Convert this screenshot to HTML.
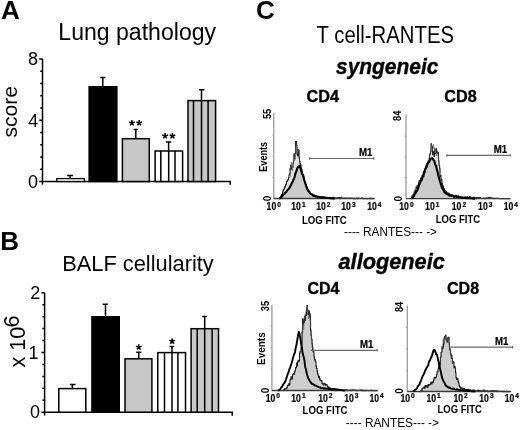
<!DOCTYPE html>
<html><head><meta charset="utf-8">
<style>
html,body{margin:0;padding:0;background:#fff;}
body{width:520px;height:430px;overflow:hidden;}
svg{display:block;will-change:transform;}
text{font-family:"Liberation Sans",sans-serif;fill:#000;}
.b{font-weight:bold;}
.s3{stroke:#000;stroke-width:0.35px;}
.s2{stroke:#000;stroke-width:0.22px;}
</style></head><body>
<svg width="520" height="430" viewBox="0 0 520 430">
<rect width="520" height="430" fill="#fff"/>

<!-- ============ PANEL A ============ -->
<text class="b" x="1" y="19.2" font-size="26">A</text>
<text x="58.3" y="39.9" font-size="23.5" textLength="157.8" lengthAdjust="spacingAndGlyphs">Lung pathology</text>
<text x="0" y="0" font-size="20.8" transform="translate(16.7,137.5) rotate(-90)" textLength="51.6" lengthAdjust="spacingAndGlyphs">score</text>
<g font-size="18" text-anchor="end">
<text x="38" y="65">8</text>
<text x="38.3" y="126.6">4</text>
<text x="38" y="187.7">0</text>
</g>
<g stroke="#000" stroke-width="1.5" fill="none">
<path d="M42.5 58.9V184.6"/>
<path d="M39.2 58.9H42.5M39.2 120.2H42.5M39.2 181.5H230.2V184.8"/>
<path d="M40.2 71.2H42.5M40.2 83.5H42.5M40.2 95.8H42.5M40.2 108H42.5M40.2 132.5H42.5M40.2 144.8H42.5M40.2 157H42.5M40.2 169.3H42.5"/>
</g>
<!-- bars A -->
<g stroke="#000" stroke-width="1.5">
<rect x="56.8" y="178.6" width="27.5" height="2.9" fill="#fff" stroke-width="1.3"/>
<rect x="89.15" y="86.75" width="27.7" height="94.75" fill="#000"/>
<rect x="122.4" y="138.7" width="26.9" height="42.8" fill="#c7c7c7"/>
<rect x="155.1" y="151" width="27.5" height="30.5" fill="#fff"/>
<rect x="188" y="100.6" width="27.6" height="80.9" fill="#c7c7c7"/>
<path d="M160.8 151V181.5M168.7 151V181.5M175 151V181.5" fill="none"/>
<path d="M193.5 100.6V181.5M201.5 100.6V181.5M208.1 100.6V181.5" fill="none"/>
<!-- error bars -->
<path d="M70.2 178.7V175.4M67.2 175.4H73" fill="none"/>
<path d="M102.8 86V77.4M100.3 77.4H105.5" fill="none"/>
<path d="M135.8 138.7V129.5M133.6 129.5H138" fill="none"/>
<path d="M168.6 151V142M166 142H171.2" fill="none"/>
<path d="M201.5 100.6V89.8M199.1 89.8H204.3" fill="none"/>
</g>
<path d="M131.90 123.00L131.90 120.00M131.90 123.00L134.75 122.07M131.90 123.00L133.66 125.43M131.90 123.00L130.14 125.43M131.90 123.00L129.05 122.07M139.20 123.00L139.20 120.00M139.20 123.00L142.05 122.07M139.20 123.00L140.96 125.43M139.20 123.00L137.44 125.43M139.20 123.00L136.35 122.07M165.10 136.00L165.10 133.00M165.10 136.00L167.95 135.07M165.10 136.00L166.86 138.43M165.10 136.00L163.34 138.43M165.10 136.00L162.25 135.07M172.40 136.00L172.40 133.00M172.40 136.00L175.25 135.07M172.40 136.00L174.16 138.43M172.40 136.00L170.64 138.43M172.40 136.00L169.55 135.07M138.80 347.20L138.80 344.20M138.80 347.20L141.65 346.27M138.80 347.20L140.56 349.63M138.80 347.20L137.04 349.63M138.80 347.20L135.95 346.27M172.10 341.30L172.10 338.30M172.10 341.30L174.95 340.37M172.10 341.30L173.86 343.73M172.10 341.30L170.34 343.73M172.10 341.30L169.25 340.37" stroke="#000" stroke-width="1.5" fill="none"/>

<!-- ============ PANEL B ============ -->
<text class="b" x="0.3" y="249.7" font-size="26">B</text>
<text x="62.2" y="271.3" font-size="22.8" textLength="151.6" lengthAdjust="spacingAndGlyphs">BALF cellularity</text>
<text x="0" y="0" font-size="21.7" transform="translate(24.5,367.6) rotate(-90)">x 10</text>
<text x="0" y="0" font-size="21.7" transform="translate(18.8,327.6) rotate(-90)">6</text>
<g font-size="18" text-anchor="end">
<text x="40.3" y="298.6">2</text>
<text x="38.6" y="358.7">1</text>
<text x="40" y="418.2">0</text>
</g>
<g stroke="#000" stroke-width="1.5" fill="none">
<path d="M44.6 292.8V415.6"/>
<path d="M41.4 292.8H44.6M41.4 352.5H44.6M41.4 412.2H232.2V415.7"/>
<path d="M42.4 304.7H44.6M42.4 316.7H44.6M42.4 328.6H44.6M42.4 340.6H44.6M42.4 364.4H44.6M42.4 376.4H44.6M42.4 388.3H44.6M42.4 400.3H44.6"/>
</g>
<g stroke="#000" stroke-width="1.5">
<rect x="58.8" y="388.6" width="27" height="23.6" fill="#fff"/>
<rect x="91.95" y="316.75" width="27.3" height="95.45" fill="#000"/>
<rect x="125" y="358.8" width="26.9" height="53.4" fill="#c7c7c7"/>
<rect x="157.8" y="352.6" width="27.7" height="59.6" fill="#fff"/>
<rect x="191.1" y="328.7" width="27.4" height="83.5" fill="#c7c7c7"/>
<path d="M164.5 352.6V412.2M172 352.6V412.2M177.9 352.6V412.2" fill="none"/>
<path d="M197.2 328.7V412.2M204.7 328.7V412.2M212.1 328.7V412.2" fill="none"/>
<path d="M72.4 388.6V384.6M69.8 384.6H75.5" fill="none"/>
<path d="M105.5 316V304.3M102.7 304.3H107.9" fill="none"/>
<path d="M138.8 358.8V352.3M136.2 352.3H141.4" fill="none"/>
<path d="M172 352.6V346.6M169.4 346.6H174.3" fill="none"/>
<path d="M204.7 328.7V316.6M202.2 316.6H207.2" fill="none"/>
</g>


<!-- ============ PANEL C ============ -->
<text class="b" x="256" y="19.4" font-size="26">C</text>
<text x="316.6" y="43.4" font-size="23.3" textLength="137.4" lengthAdjust="spacingAndGlyphs">T cell-RANTES</text>
<text class="b s3" font-style="italic" x="336" y="73.9" font-size="22" textLength="102.4" lengthAdjust="spacingAndGlyphs">syngeneic</text>
<text class="b s3" x="306.5" y="101.8" font-size="17" textLength="32.6" lengthAdjust="spacingAndGlyphs">CD4</text>
<text class="b s3" x="444.3" y="101.8" font-size="17" textLength="32.5" lengthAdjust="spacingAndGlyphs">CD8</text>
<text class="b s3" font-style="italic" x="338.5" y="269.2" font-size="22" textLength="106.3" lengthAdjust="spacingAndGlyphs">allogeneic</text>
<text class="b s3" x="307.4" y="294.2" font-size="17" textLength="32" lengthAdjust="spacingAndGlyphs">CD4</text>
<text class="b s3" x="447" y="293.8" font-size="17" textLength="32.2" lengthAdjust="spacingAndGlyphs">CD8</text>

<g font-size="13.5">
<text x="344" y="236.2" textLength="93" lengthAdjust="spacingAndGlyphs">---- RANTES--- -&gt;</text>
<text x="345.8" y="426.9" textLength="93.2" lengthAdjust="spacingAndGlyphs">---- RANTES--- -&gt;</text>
</g>
<g class="b" font-size="10" font-weight="bold">
<text x="302" y="223.5" textLength="44.8" lengthAdjust="spacingAndGlyphs">LOG FITC</text>
<text x="435.8" y="222.9" textLength="44.4" lengthAdjust="spacingAndGlyphs">LOG FITC</text>
<text x="302.5" y="413.6" textLength="45" lengthAdjust="spacingAndGlyphs">LOG FITC</text>
<text x="437.5" y="413.3" textLength="44.4" lengthAdjust="spacingAndGlyphs">LOG FITC</text>
</g>

<!--HIST_START-->
<g id="h1">
<path d="M273.8 113.1V198.7" stroke="#9a9a9a" stroke-width="1.3" fill="none"/>
<path d="M272.4 135.0H273.8M272.4 156.2H273.8M272.4 177.3H273.8" stroke="#9a9a9a" stroke-width="1" fill="none"/>
<path d="M279.00 198.70 L279.50 198.70 L279.50 197.80 L280.00 197.80 L280.00 197.26 L280.50 197.26 L280.50 197.45 L281.00 197.45 L281.00 195.35 L281.50 195.35 L281.50 194.63 L282.00 194.63 L282.00 194.44 L282.50 194.44 L282.50 191.95 L283.00 191.95 L283.00 190.62 L283.50 190.62 L283.50 189.63 L284.00 189.63 L284.00 188.88 L284.50 188.88 L284.50 186.82 L285.00 186.82 L285.00 186.88 L285.50 186.88 L285.50 184.73 L286.00 184.73 L286.00 184.21 L286.50 184.21 L286.50 181.58 L287.00 181.58 L287.00 180.89 L287.50 180.89 L287.50 179.90 L288.00 179.90 L288.00 179.51 L288.50 179.51 L288.50 177.46 L289.00 177.46 L289.00 174.93 L289.50 174.93 L289.50 173.45 L290.00 173.45 L290.00 168.41 L290.50 168.41 L290.50 165.26 L291.00 165.26 L291.00 169.24 L291.50 169.24 L291.50 167.01 L292.00 167.01 L292.00 166.98 L292.50 166.98 L292.50 167.25 L293.00 167.25 L293.00 163.04 L293.50 163.04 L293.50 160.66 L294.00 160.66 L294.00 153.93 L294.50 153.93 L294.50 159.08 L295.00 159.08 L295.00 153.57 L295.50 153.57 L295.50 141.43 L296.00 141.43 L296.00 141.40 L296.50 141.40 L296.50 145.19 L297.00 145.19 L297.00 154.32 L297.50 154.32 L297.50 155.64 L298.00 155.64 L298.00 149.86 L298.50 149.86 L298.50 150.21 L299.00 150.21 L299.00 158.08 L299.50 158.08 L299.50 161.62 L300.00 161.62 L300.00 163.73 L300.50 163.73 L300.50 168.26 L301.00 168.26 L301.00 168.21 L301.50 168.21 L301.50 169.81 L302.00 169.81 L302.00 171.85 L302.50 171.85 L302.50 174.67 L303.00 174.67 L303.00 174.41 L303.50 174.41 L303.50 175.94 L304.00 175.94 L304.00 178.92 L304.50 178.92 L304.50 182.53 L305.00 182.53 L305.00 181.90 L305.50 181.90 L305.50 185.12 L306.00 185.12 L306.00 184.60 L306.50 184.60 L306.50 188.48 L307.00 188.48 L307.00 187.27 L307.50 187.27 L307.50 189.41 L308.00 189.41 L308.00 191.57 L308.50 191.57 L308.50 191.33 L309.00 191.33 L309.00 191.75 L309.50 191.75 L309.50 192.11 L310.00 192.11 L310.00 193.84 L310.50 193.84 L310.50 194.47 L311.00 194.47 L311.00 193.92 L311.50 193.92 L311.50 194.80 L312.00 194.80 L312.00 194.55 L312.50 194.55 L312.50 194.46 L313.00 194.46 L313.00 196.46 L313.50 196.46 L313.50 195.43 L314.00 195.43 L314.00 194.98 L314.50 194.98 L314.50 196.15 L315.00 196.15 L315.00 196.63 L315.50 196.63 L315.50 195.88 L316.00 195.88 L316.00 196.36 L316.50 196.36 L316.50 196.09 L317.00 196.09 L317.00 196.86 L317.50 196.86 L317.50 197.55 L318.00 197.55 L318.00 196.91 L318.50 196.91 L318.50 197.16 L319.00 197.16 L319.00 196.64 L319.50 196.64 L319.50 197.02 L320.00 197.02 L320.00 197.96 L320.50 197.96 L320.50 197.80 L321.00 197.80 L321.00 196.90 L321.50 196.90 L321.50 197.05 L322.00 197.05 L322.00 197.68 L322.50 197.68 L322.50 197.45 L323.00 197.45 L323.00 197.31 L323.50 197.31 L323.50 197.36 L324.00 197.36 L324.00 197.25 L324.50 197.25 L324.50 197.55 L325.00 197.55 L325.00 197.74 L325.50 197.74 L325.50 197.81 L326.00 197.81 L326.00 197.33 L326.50 197.33 L326.50 198.58 L327.00 198.58 L327.00 197.80 L327.50 197.80 L327.50 197.75 L328.00 197.75 L328.00 198.30 L328.50 198.30 L328.50 197.67 L329.00 197.67 L329.00 198.04 L329.50 198.04 L329.50 197.51 L330.00 197.51 L330.00 197.88 L330.50 197.88 L330.50 197.61 L331.00 197.61 L331.00 197.44 L331.50 197.44 L331.50 197.74 L332.00 197.74 L332.00 198.19 L332.50 198.19 L332.50 198.41 L333.00 198.41 L333.00 197.32 L333.50 197.32 L333.50 197.96 L334.00 197.96 L334.00 198.17 L334.50 198.17 L334.50 197.91 L335.00 197.91 L335.00 198.03 L335.50 198.03 L335.50 197.71 L336.00 197.71 L336.00 197.98 L336.50 197.98 L336.50 198.00 L337.00 198.00 L337.00 198.24 L337.50 198.24 L337.50 197.89 L338.00 197.89 L338.00 198.36 L338.50 198.36 L338.50 197.86 L339.00 197.86 L339.00 197.61 L339.50 197.61 L339.50 198.54 L340.00 198.54 L340.00 198.70 L340.50 198.70 L340.50 197.93 L341.00 197.93 L341.00 197.38 L341.50 197.38 L341.50 198.41 L342.00 198.41 L342.00 198.49 L342.50 198.49 L342.50 197.98 L343.00 197.98 L343.00 198.39 L343.50 198.39 L343.50 198.30 L344.00 198.30 L344.00 198.27 L344.50 198.27 L344.50 198.03 L345.00 198.03 L345.00 198.30 L345.50 198.30 L345.50 198.12 L346.00 198.12 L346.00 198.25 L346.50 198.25 L346.50 198.44 L347.00 198.44 L347.00 198.31 L347.50 198.31 L347.50 198.48 L348.00 198.48 L348.00 198.24 L348.50 198.24 L348.50 198.54 L349.00 198.54 L349.00 198.53 L349.50 198.53 L349.50 197.90 L350.00 197.90 L350.00 198.29 L350.50 198.29 L350.50 198.30 L351.00 198.30 L351.00 198.17 L351.50 198.17 L351.50 198.40 L352.00 198.40 L352.00 198.36 L352.50 198.36 L352.50 198.22 L353.00 198.22 L353.00 198.26 L353.50 198.26 L353.50 198.60 L354.00 198.60 L354.00 198.16 L354.50 198.16 L354.50 198.49 L355.00 198.49 L355.00 198.60 L355.50 198.60 L355.50 198.57 L356.00 198.57 L356.00 198.46 L356.50 198.46 L356.50 198.04 L357.00 198.04 L357.00 198.64 L357.50 198.64 L357.50 198.37 L358.00 198.37 L358.00 198.70 L358.50 198.70 L358.50 198.42 L359.00 198.42 L359.00 198.26 L359.50 198.26 L359.50 198.49 L360.00 198.49 L360.00 198.57 L360.50 198.57 L360.50 198.42 L361.00 198.42 L361.00 198.34 L361.50 198.34 L361.50 198.36 L362.00 198.36 L362.00 198.14 L362.50 198.14 L362.50 198.46 L363.00 198.46 L363.00 198.60 L363.50 198.60 L363.50 198.53 L364.00 198.53 L364.00 198.53 L364.50 198.53 L364.50 198.51 L365.00 198.51 L365.00 198.54 L365.50 198.54 L365.50 198.52 L366.00 198.52 L366.00 198.70 L366.50 198.70 L366.50 198.45 L367.00 198.45 L367.00 198.65 L367.50 198.65 L367.50 198.70 L368.00 198.70 L368.00 198.51 L368.50 198.51 L368.50 198.44 L369.00 198.44 L369.00 198.55 L369.50 198.55 L369.50 198.60 L370.00 198.60 L370.00 198.70 L370.50 198.70 L370.50 198.35 L371.00 198.35 L371.00 198.56 L371.50 198.56 L371.50 198.70 L372.00 198.70 L372.00 198.70 L372.50 198.70 L372.50 198.66 L373.00 198.66 L373.00 198.70 L373.50 198.70 L373.50 198.68 L374.30 198.68 L374.30 198.70Z" fill="#e2e2e2" stroke="none"/>
<path d="M279.30 198.50 L280.10 198.02 L280.90 197.46 L281.70 197.02 L282.50 195.43 L283.30 194.74 L284.10 194.28 L284.90 193.19 L285.70 192.41 L286.50 191.71 L287.30 190.23 L288.10 189.71 L288.90 188.54 L289.70 187.56 L290.50 185.81 L291.30 184.45 L292.10 182.54 L292.90 181.32 L293.70 178.97 L294.50 177.40 L295.30 174.00 L296.10 171.93 L296.90 169.51 L297.70 167.38 L298.50 167.20 L299.30 165.87 L300.10 165.81 L300.90 170.17 L301.70 172.32 L302.50 174.76 L303.30 176.23 L304.10 179.74 L304.90 182.13 L305.70 184.64 L306.50 187.01 L307.30 188.96 L308.10 190.41 L308.90 191.36 L309.70 192.93 L310.50 193.63 L311.30 194.26 L312.10 194.36 L312.90 195.42 L313.70 195.90 L314.50 196.07 L315.30 196.07 L316.10 196.56 L316.90 196.43 L317.70 197.11 L318.50 196.76 L319.30 196.92 L320.10 197.42 L320.90 197.27 L321.70 197.20 L322.50 197.44 L323.30 197.40 L324.10 197.31 L324.90 197.66 L325.70 197.80 L326.50 197.92 L327.30 197.84 L328.10 198.00 L328.90 198.07 L329.70 198.13 L330.50 198.14 L331.30 198.35 L332.10 198.45 L332.90 198.57 L333.70 198.42 L335.00 198.60 L335.00 198.70 L279.30 198.70Z" fill="#cbcbcb" stroke="none"/>
<path d="M279.00 198.70 L279.50 198.70 L279.50 197.80 L280.00 197.80 L280.00 197.26 L280.50 197.26 L280.50 197.45 L281.00 197.45 L281.00 195.35 L281.50 195.35 L281.50 194.63 L282.00 194.63 L282.00 194.44 L282.50 194.44 L282.50 191.95 L283.00 191.95 L283.00 190.62 L283.50 190.62 L283.50 189.63 L284.00 189.63 L284.00 188.88 L284.50 188.88 L284.50 186.82 L285.00 186.82 L285.00 186.88 L285.50 186.88 L285.50 184.73 L286.00 184.73 L286.00 184.21 L286.50 184.21 L286.50 181.58 L287.00 181.58 L287.00 180.89 L287.50 180.89 L287.50 179.90 L288.00 179.90 L288.00 179.51 L288.50 179.51 L288.50 177.46 L289.00 177.46 L289.00 174.93 L289.50 174.93 L289.50 173.45 L290.00 173.45 L290.00 168.41 L290.50 168.41 L290.50 165.26 L291.00 165.26 L291.00 169.24 L291.50 169.24 L291.50 167.01 L292.00 167.01 L292.00 166.98 L292.50 166.98 L292.50 167.25 L293.00 167.25 L293.00 163.04 L293.50 163.04 L293.50 160.66 L294.00 160.66 L294.00 153.93 L294.50 153.93 L294.50 159.08 L295.00 159.08 L295.00 153.57 L295.50 153.57 L295.50 141.43 L296.00 141.43 L296.00 141.40 L296.50 141.40 L296.50 145.19 L297.00 145.19 L297.00 154.32 L297.50 154.32 L297.50 155.64 L298.00 155.64 L298.00 149.86 L298.50 149.86 L298.50 150.21 L299.00 150.21 L299.00 158.08 L299.50 158.08 L299.50 161.62 L300.00 161.62 L300.00 163.73 L300.50 163.73 L300.50 168.26 L301.00 168.26 L301.00 168.21 L301.50 168.21 L301.50 169.81 L302.00 169.81 L302.00 171.85 L302.50 171.85 L302.50 174.67 L303.00 174.67 L303.00 174.41 L303.50 174.41 L303.50 175.94 L304.00 175.94 L304.00 178.92 L304.50 178.92 L304.50 182.53 L305.00 182.53 L305.00 181.90 L305.50 181.90 L305.50 185.12 L306.00 185.12 L306.00 184.60 L306.50 184.60 L306.50 188.48 L307.00 188.48 L307.00 187.27 L307.50 187.27 L307.50 189.41 L308.00 189.41 L308.00 191.57 L308.50 191.57 L308.50 191.33 L309.00 191.33 L309.00 191.75 L309.50 191.75 L309.50 192.11 L310.00 192.11 L310.00 193.84 L310.50 193.84 L310.50 194.47 L311.00 194.47 L311.00 193.92 L311.50 193.92 L311.50 194.80 L312.00 194.80 L312.00 194.55 L312.50 194.55 L312.50 194.46 L313.00 194.46 L313.00 196.46 L313.50 196.46 L313.50 195.43 L314.00 195.43 L314.00 194.98 L314.50 194.98 L314.50 196.15 L315.00 196.15 L315.00 196.63 L315.50 196.63 L315.50 195.88 L316.00 195.88 L316.00 196.36 L316.50 196.36 L316.50 196.09 L317.00 196.09 L317.00 196.86 L317.50 196.86 L317.50 197.55 L318.00 197.55 L318.00 196.91 L318.50 196.91 L318.50 197.16 L319.00 197.16 L319.00 196.64 L319.50 196.64 L319.50 197.02 L320.00 197.02 L320.00 197.96 L320.50 197.96 L320.50 197.80 L321.00 197.80 L321.00 196.90 L321.50 196.90 L321.50 197.05 L322.00 197.05 L322.00 197.68 L322.50 197.68 L322.50 197.45 L323.00 197.45 L323.00 197.31 L323.50 197.31 L323.50 197.36 L324.00 197.36 L324.00 197.25 L324.50 197.25 L324.50 197.55 L325.00 197.55 L325.00 197.74 L325.50 197.74 L325.50 197.81 L326.00 197.81 L326.00 197.33 L326.50 197.33 L326.50 198.58 L327.00 198.58 L327.00 197.80 L327.50 197.80 L327.50 197.75 L328.00 197.75 L328.00 198.30 L328.50 198.30 L328.50 197.67 L329.00 197.67 L329.00 198.04 L329.50 198.04 L329.50 197.51 L330.00 197.51 L330.00 197.88 L330.50 197.88 L330.50 197.61 L331.00 197.61 L331.00 197.44 L331.50 197.44 L331.50 197.74 L332.00 197.74 L332.00 198.19 L332.50 198.19 L332.50 198.41 L333.00 198.41 L333.00 197.32 L333.50 197.32 L333.50 197.96 L334.00 197.96 L334.00 198.17 L334.50 198.17 L334.50 197.91 L335.00 197.91 L335.00 198.03 L335.50 198.03 L335.50 197.71 L336.00 197.71 L336.00 197.98 L336.50 197.98 L336.50 198.00 L337.00 198.00 L337.00 198.24 L337.50 198.24 L337.50 197.89 L338.00 197.89 L338.00 198.36 L338.50 198.36 L338.50 197.86 L339.00 197.86 L339.00 197.61 L339.50 197.61 L339.50 198.54 L340.00 198.54 L340.00 198.70 L340.50 198.70 L340.50 197.93 L341.00 197.93 L341.00 197.38 L341.50 197.38 L341.50 198.41 L342.00 198.41 L342.00 198.49 L342.50 198.49 L342.50 197.98 L343.00 197.98 L343.00 198.39 L343.50 198.39 L343.50 198.30 L344.00 198.30 L344.00 198.27 L344.50 198.27 L344.50 198.03 L345.00 198.03 L345.00 198.30 L345.50 198.30 L345.50 198.12 L346.00 198.12 L346.00 198.25 L346.50 198.25 L346.50 198.44 L347.00 198.44 L347.00 198.31 L347.50 198.31 L347.50 198.48 L348.00 198.48 L348.00 198.24 L348.50 198.24 L348.50 198.54 L349.00 198.54 L349.00 198.53 L349.50 198.53 L349.50 197.90 L350.00 197.90 L350.00 198.29 L350.50 198.29 L350.50 198.30 L351.00 198.30 L351.00 198.17 L351.50 198.17 L351.50 198.40 L352.00 198.40 L352.00 198.36 L352.50 198.36 L352.50 198.22 L353.00 198.22 L353.00 198.26 L353.50 198.26 L353.50 198.60 L354.00 198.60 L354.00 198.16 L354.50 198.16 L354.50 198.49 L355.00 198.49 L355.00 198.60 L355.50 198.60 L355.50 198.57 L356.00 198.57 L356.00 198.46 L356.50 198.46 L356.50 198.04 L357.00 198.04 L357.00 198.64 L357.50 198.64 L357.50 198.37 L358.00 198.37 L358.00 198.70 L358.50 198.70 L358.50 198.42 L359.00 198.42 L359.00 198.26 L359.50 198.26 L359.50 198.49 L360.00 198.49 L360.00 198.57 L360.50 198.57 L360.50 198.42 L361.00 198.42 L361.00 198.34 L361.50 198.34 L361.50 198.36 L362.00 198.36 L362.00 198.14 L362.50 198.14 L362.50 198.46 L363.00 198.46 L363.00 198.60 L363.50 198.60 L363.50 198.53 L364.00 198.53 L364.00 198.53 L364.50 198.53 L364.50 198.51 L365.00 198.51 L365.00 198.54 L365.50 198.54 L365.50 198.52 L366.00 198.52 L366.00 198.70 L366.50 198.70 L366.50 198.45 L367.00 198.45 L367.00 198.65 L367.50 198.65 L367.50 198.70 L368.00 198.70 L368.00 198.51 L368.50 198.51 L368.50 198.44 L369.00 198.44 L369.00 198.55 L369.50 198.55 L369.50 198.60 L370.00 198.60 L370.00 198.70 L370.50 198.70 L370.50 198.35 L371.00 198.35 L371.00 198.56 L371.50 198.56 L371.50 198.70 L372.00 198.70 L372.00 198.70 L372.50 198.70 L372.50 198.66 L373.00 198.66 L373.00 198.70 L373.50 198.70 L373.50 198.68 L374.30 198.68 L374.30 198.70" fill="none" stroke="#222" stroke-width="1.05"/>
<path d="M289.40 173.30 L289.85 173.30 L289.85 176.23 L290.30 176.23 L290.30 168.04 L290.75 168.04 L290.75 166.39 L291.20 166.39 L291.20 162.33 L291.65 162.33 L291.65 164.79 L292.10 164.79 L292.10 170.89 L292.55 170.89 L292.55 166.51 L293.00 166.51 L293.00 165.32 L293.45 165.32 L293.45 154.28 L293.90 154.28 L293.90 158.94 L294.35 158.94 L294.35 157.93 L294.80 157.93 L294.80 154.86 L295.25 154.86 L295.25 151.96 L295.70 151.96 L295.70 147.08 L296.15 147.08 L296.15 144.92 L296.60 144.92 L296.60 147.00 L297.05 147.00 L297.05 153.40 L297.50 153.40 L297.50 149.03 L297.95 149.03 L297.95 150.87 L298.40 150.87 L298.40 149.54 L298.85 149.54 L298.85 150.02 L299.30 150.02 L299.30 156.78 L299.75 156.78 L299.75 163.04 L300.20 163.04 L300.20 165.23 L300.65 165.23 L300.65 165.68 L301.10 165.68 L301.10 164.67 L301.80 164.67 L301.80 171.20" fill="none" stroke="#555" stroke-width="0.6"/>
<path d="M273.8 198.5H374.3" stroke="#3a3a3a" stroke-width="1.3" fill="none"/>
<path d="M279.30 198.50 L280.10 198.02 L280.90 197.46 L281.70 197.02 L282.50 195.43 L283.30 194.74 L284.10 194.28 L284.90 193.19 L285.70 192.41 L286.50 191.71 L287.30 190.23 L288.10 189.71 L288.90 188.54 L289.70 187.56 L290.50 185.81 L291.30 184.45 L292.10 182.54 L292.90 181.32 L293.70 178.97 L294.50 177.40 L295.30 174.00 L296.10 171.93 L296.90 169.51 L297.70 167.38 L298.50 167.20 L299.30 165.87 L300.10 165.81 L300.90 170.17 L301.70 172.32 L302.50 174.76 L303.30 176.23 L304.10 179.74 L304.90 182.13 L305.70 184.64 L306.50 187.01 L307.30 188.96 L308.10 190.41 L308.90 191.36 L309.70 192.93 L310.50 193.63 L311.30 194.26 L312.10 194.36 L312.90 195.42 L313.70 195.90 L314.50 196.07 L315.30 196.07 L316.10 196.56 L316.90 196.43 L317.70 197.11 L318.50 196.76 L319.30 196.92 L320.10 197.42 L320.90 197.27 L321.70 197.20 L322.50 197.44 L323.30 197.40 L324.10 197.31 L324.90 197.66 L325.70 197.80 L326.50 197.92 L327.30 197.84 L328.10 198.00 L328.90 198.07 L329.70 198.13 L330.50 198.14 L331.30 198.35 L332.10 198.45 L332.90 198.57 L333.70 198.42 L335.00 198.60" fill="none" stroke="#000" stroke-width="2.1" stroke-linejoin="round"/>
<path d="M309.5 158.5H373.9M373.9 157.3V159.7M309.5 157.3V159.7" stroke="#6a6a6a" stroke-width="1.2" fill="none"/>
<text x="359.1" y="155.6" font-size="10" font-weight="bold" class="s2" textLength="13.4" lengthAdjust="spacingAndGlyphs">M1</text>
<text font-size="10" font-weight="bold" transform="translate(270.6,119.1) rotate(-90)" textLength="10.4" lengthAdjust="spacingAndGlyphs">55</text>
<text font-size="10" font-weight="bold" transform="translate(270.9,201.2) rotate(-90)">0</text>
<text font-size="10.5" font-weight="bold" transform="translate(267.4,171.7) rotate(-90)" textLength="29.8" lengthAdjust="spacingAndGlyphs">Events</text>
</g>
<g id="h2">
<path d="M406.0 114.6V198.8" stroke="#9a9a9a" stroke-width="1.3" fill="none"/>
<path d="M404.6 136.1H406.0M404.6 156.8H406.0M404.6 177.5H406.0" stroke="#9a9a9a" stroke-width="1" fill="none"/>
<path d="M411.00 198.80 L411.50 198.80 L411.50 197.08 L412.00 197.08 L412.00 195.76 L412.50 195.76 L412.50 195.66 L413.00 195.66 L413.00 194.62 L413.50 194.62 L413.50 193.93 L414.00 193.93 L414.00 192.01 L414.50 192.01 L414.50 191.70 L415.00 191.70 L415.00 189.96 L415.50 189.96 L415.50 191.98 L416.00 191.98 L416.00 187.14 L416.50 187.14 L416.50 188.01 L417.00 188.01 L417.00 185.88 L417.50 185.88 L417.50 185.85 L418.00 185.85 L418.00 185.07 L418.50 185.07 L418.50 182.66 L419.00 182.66 L419.00 180.90 L419.50 180.90 L419.50 181.32 L420.00 181.32 L420.00 180.42 L420.50 180.42 L420.50 178.18 L421.00 178.18 L421.00 179.80 L421.50 179.80 L421.50 179.83 L422.00 179.83 L422.00 175.28 L422.50 175.28 L422.50 175.92 L423.00 175.92 L423.00 177.02 L423.50 177.02 L423.50 173.60 L424.00 173.60 L424.00 171.94 L424.50 171.94 L424.50 172.43 L425.00 172.43 L425.00 172.10 L425.50 172.10 L425.50 167.96 L426.00 167.96 L426.00 165.16 L426.50 165.16 L426.50 166.59 L427.00 166.59 L427.00 166.68 L427.50 166.68 L427.50 163.14 L428.00 163.14 L428.00 161.11 L428.50 161.11 L428.50 162.13 L429.00 162.13 L429.00 158.71 L429.50 158.71 L429.50 154.31 L430.00 154.31 L430.00 153.93 L430.50 153.93 L430.50 151.38 L431.00 151.38 L431.00 143.73 L431.50 143.73 L431.50 146.09 L432.00 146.09 L432.00 146.70 L432.50 146.70 L432.50 154.56 L433.00 154.56 L433.00 151.32 L433.50 151.32 L433.50 151.43 L434.00 151.43 L434.00 156.42 L434.50 156.42 L434.50 152.07 L435.00 152.07 L435.00 150.02 L435.50 150.02 L435.50 153.40 L436.00 153.40 L436.00 148.65 L436.50 148.65 L436.50 150.87 L437.00 150.87 L437.00 152.11 L437.50 152.11 L437.50 153.34 L438.00 153.34 L438.00 152.54 L438.50 152.54 L438.50 160.90 L439.00 160.90 L439.00 165.58 L439.50 165.58 L439.50 168.72 L440.00 168.72 L440.00 176.41 L440.50 176.41 L440.50 175.20 L441.00 175.20 L441.00 179.09 L441.50 179.09 L441.50 179.83 L442.00 179.83 L442.00 183.88 L442.50 183.88 L442.50 185.22 L443.00 185.22 L443.00 186.47 L443.50 186.47 L443.50 189.56 L444.00 189.56 L444.00 188.73 L444.50 188.73 L444.50 190.48 L445.00 190.48 L445.00 190.79 L445.50 190.79 L445.50 192.40 L446.00 192.40 L446.00 191.41 L446.50 191.41 L446.50 192.47 L447.00 192.47 L447.00 193.75 L447.50 193.75 L447.50 193.33 L448.00 193.33 L448.00 193.10 L448.50 193.10 L448.50 192.97 L449.00 192.97 L449.00 195.88 L449.50 195.88 L449.50 194.27 L450.00 194.27 L450.00 194.86 L450.50 194.86 L450.50 195.40 L451.00 195.40 L451.00 196.16 L451.50 196.16 L451.50 194.73 L452.00 194.73 L452.00 196.56 L452.50 196.56 L452.50 195.48 L453.00 195.48 L453.00 195.15 L453.50 195.15 L453.50 197.11 L454.00 197.11 L454.00 196.42 L454.50 196.42 L454.50 197.15 L455.00 197.15 L455.00 196.36 L455.50 196.36 L455.50 195.69 L456.00 195.69 L456.00 195.46 L456.50 195.46 L456.50 197.64 L457.00 197.64 L457.00 197.02 L457.50 197.02 L457.50 196.37 L458.00 196.37 L458.00 195.95 L458.50 195.95 L458.50 196.63 L459.00 196.63 L459.00 197.29 L459.50 197.29 L459.50 196.80 L460.00 196.80 L460.00 197.01 L460.50 197.01 L460.50 197.15 L461.00 197.15 L461.00 197.46 L461.50 197.46 L461.50 196.96 L462.00 196.96 L462.00 197.05 L462.50 197.05 L462.50 197.29 L463.00 197.29 L463.00 197.40 L463.50 197.40 L463.50 197.94 L464.00 197.94 L464.00 197.62 L464.50 197.62 L464.50 196.92 L465.00 196.92 L465.00 197.58 L465.50 197.58 L465.50 198.13 L466.00 198.13 L466.00 196.96 L466.50 196.96 L466.50 197.32 L467.00 197.32 L467.00 196.66 L467.50 196.66 L467.50 197.55 L468.00 197.55 L468.00 197.78 L468.50 197.78 L468.50 198.20 L469.00 198.20 L469.00 197.07 L469.50 197.07 L469.50 196.57 L470.00 196.57 L470.00 197.98 L470.50 197.98 L470.50 197.92 L471.00 197.92 L471.00 197.43 L471.50 197.43 L471.50 198.02 L472.00 198.02 L472.00 197.81 L472.50 197.81 L472.50 197.85 L473.00 197.85 L473.00 197.65 L473.50 197.65 L473.50 197.32 L474.00 197.32 L474.00 197.75 L474.50 197.75 L474.50 197.42 L475.00 197.42 L475.00 197.95 L475.50 197.95 L475.50 197.68 L476.00 197.68 L476.00 198.62 L476.50 198.62 L476.50 198.37 L477.00 198.37 L477.00 197.55 L477.50 197.55 L477.50 198.08 L478.00 198.08 L478.00 197.66 L478.50 197.66 L478.50 197.69 L479.00 197.69 L479.00 197.43 L479.50 197.43 L479.50 197.63 L480.00 197.63 L480.00 197.57 L480.50 197.57 L480.50 197.99 L481.00 197.99 L481.00 198.20 L481.50 198.20 L481.50 198.23 L482.00 198.23 L482.00 198.16 L482.50 198.16 L482.50 198.39 L483.00 198.39 L483.00 198.20 L483.50 198.20 L483.50 198.06 L484.00 198.06 L484.00 197.96 L484.50 197.96 L484.50 198.17 L485.00 198.17 L485.00 198.70 L485.50 198.70 L485.50 198.11 L486.00 198.11 L486.00 198.03 L486.50 198.03 L486.50 197.78 L487.00 197.78 L487.00 197.95 L487.50 197.95 L487.50 198.34 L488.00 198.34 L488.00 198.38 L488.50 198.38 L488.50 197.57 L489.00 197.57 L489.00 197.97 L489.50 197.97 L489.50 197.67 L490.00 197.67 L490.00 197.60 L490.50 197.60 L490.50 198.47 L491.00 198.47 L491.00 198.14 L491.50 198.14 L491.50 198.13 L492.00 198.13 L492.00 198.12 L492.50 198.12 L492.50 198.14 L493.00 198.14 L493.00 198.25 L493.50 198.25 L493.50 198.27 L494.00 198.27 L494.00 198.72 L494.50 198.72 L494.50 198.39 L495.00 198.39 L495.00 198.55 L495.50 198.55 L495.50 198.35 L496.00 198.35 L496.00 198.51 L496.50 198.51 L496.50 198.26 L497.00 198.26 L497.00 198.23 L497.50 198.23 L497.50 198.36 L498.00 198.36 L498.00 198.38 L498.50 198.38 L498.50 198.44 L499.00 198.44 L499.00 198.57 L499.50 198.57 L499.50 198.53 L500.00 198.53 L500.00 198.61 L500.50 198.61 L500.50 198.44 L501.00 198.44 L501.00 198.53 L501.50 198.53 L501.50 198.44 L502.00 198.44 L502.00 198.80 L502.50 198.80 L502.50 198.42 L503.00 198.42 L503.00 198.72 L503.50 198.72 L503.50 198.73 L504.00 198.73 L504.00 198.65 L504.50 198.65 L504.50 198.72 L505.00 198.72 L505.00 198.61 L505.50 198.61 L505.50 198.75 L506.00 198.75 L506.00 198.80 L506.50 198.80 L506.50 198.80 L507.00 198.80 L507.00 198.56 L507.50 198.56 L507.50 198.72 L508.00 198.72 L508.00 198.80 L508.50 198.80 L508.50 198.75 L509.00 198.75 L509.00 198.80 L509.50 198.80 L509.50 198.68 L510.20 198.68 L510.20 198.80Z" fill="#e2e2e2" stroke="none"/>
<path d="M412.00 198.60 L412.80 197.57 L413.60 196.67 L414.40 195.12 L415.20 193.33 L416.00 192.64 L416.80 191.01 L417.60 189.73 L418.40 187.20 L419.20 184.67 L420.00 183.17 L420.80 180.96 L421.60 180.28 L422.40 177.21 L423.20 175.79 L424.00 172.17 L424.80 170.69 L425.60 168.62 L426.40 167.25 L427.20 164.87 L428.00 163.01 L428.80 162.12 L429.60 160.74 L430.40 159.19 L431.20 158.58 L432.00 158.24 L432.80 158.70 L433.60 160.18 L434.40 160.90 L435.20 164.44 L436.00 165.33 L436.80 169.13 L437.60 172.08 L438.40 175.83 L439.20 178.45 L440.00 181.50 L440.80 183.95 L441.60 186.72 L442.40 188.29 L443.20 189.44 L444.00 191.19 L444.80 192.67 L445.60 192.85 L446.40 193.77 L447.20 194.12 L448.00 194.39 L448.80 194.91 L449.60 195.54 L450.40 195.43 L451.20 195.45 L452.00 195.87 L452.80 195.92 L453.60 196.03 L454.40 196.54 L455.20 196.41 L456.00 196.46 L456.80 196.68 L457.60 196.78 L458.40 196.91 L459.20 196.86 L460.00 197.29 L460.80 197.43 L461.60 197.46 L462.40 197.75 L463.20 197.90 L464.00 197.88 L464.80 197.79 L465.60 197.85 L466.40 198.14 L467.20 198.24 L468.00 198.14 L468.80 198.19 L469.60 198.25 L470.40 198.25 L471.20 198.28 L472.00 198.43 L472.80 198.47 L473.60 198.64 L475.00 198.70 L475.00 198.80 L412.00 198.80Z" fill="#cbcbcb" stroke="none"/>
<path d="M411.00 198.80 L411.50 198.80 L411.50 197.08 L412.00 197.08 L412.00 195.76 L412.50 195.76 L412.50 195.66 L413.00 195.66 L413.00 194.62 L413.50 194.62 L413.50 193.93 L414.00 193.93 L414.00 192.01 L414.50 192.01 L414.50 191.70 L415.00 191.70 L415.00 189.96 L415.50 189.96 L415.50 191.98 L416.00 191.98 L416.00 187.14 L416.50 187.14 L416.50 188.01 L417.00 188.01 L417.00 185.88 L417.50 185.88 L417.50 185.85 L418.00 185.85 L418.00 185.07 L418.50 185.07 L418.50 182.66 L419.00 182.66 L419.00 180.90 L419.50 180.90 L419.50 181.32 L420.00 181.32 L420.00 180.42 L420.50 180.42 L420.50 178.18 L421.00 178.18 L421.00 179.80 L421.50 179.80 L421.50 179.83 L422.00 179.83 L422.00 175.28 L422.50 175.28 L422.50 175.92 L423.00 175.92 L423.00 177.02 L423.50 177.02 L423.50 173.60 L424.00 173.60 L424.00 171.94 L424.50 171.94 L424.50 172.43 L425.00 172.43 L425.00 172.10 L425.50 172.10 L425.50 167.96 L426.00 167.96 L426.00 165.16 L426.50 165.16 L426.50 166.59 L427.00 166.59 L427.00 166.68 L427.50 166.68 L427.50 163.14 L428.00 163.14 L428.00 161.11 L428.50 161.11 L428.50 162.13 L429.00 162.13 L429.00 158.71 L429.50 158.71 L429.50 154.31 L430.00 154.31 L430.00 153.93 L430.50 153.93 L430.50 151.38 L431.00 151.38 L431.00 143.73 L431.50 143.73 L431.50 146.09 L432.00 146.09 L432.00 146.70 L432.50 146.70 L432.50 154.56 L433.00 154.56 L433.00 151.32 L433.50 151.32 L433.50 151.43 L434.00 151.43 L434.00 156.42 L434.50 156.42 L434.50 152.07 L435.00 152.07 L435.00 150.02 L435.50 150.02 L435.50 153.40 L436.00 153.40 L436.00 148.65 L436.50 148.65 L436.50 150.87 L437.00 150.87 L437.00 152.11 L437.50 152.11 L437.50 153.34 L438.00 153.34 L438.00 152.54 L438.50 152.54 L438.50 160.90 L439.00 160.90 L439.00 165.58 L439.50 165.58 L439.50 168.72 L440.00 168.72 L440.00 176.41 L440.50 176.41 L440.50 175.20 L441.00 175.20 L441.00 179.09 L441.50 179.09 L441.50 179.83 L442.00 179.83 L442.00 183.88 L442.50 183.88 L442.50 185.22 L443.00 185.22 L443.00 186.47 L443.50 186.47 L443.50 189.56 L444.00 189.56 L444.00 188.73 L444.50 188.73 L444.50 190.48 L445.00 190.48 L445.00 190.79 L445.50 190.79 L445.50 192.40 L446.00 192.40 L446.00 191.41 L446.50 191.41 L446.50 192.47 L447.00 192.47 L447.00 193.75 L447.50 193.75 L447.50 193.33 L448.00 193.33 L448.00 193.10 L448.50 193.10 L448.50 192.97 L449.00 192.97 L449.00 195.88 L449.50 195.88 L449.50 194.27 L450.00 194.27 L450.00 194.86 L450.50 194.86 L450.50 195.40 L451.00 195.40 L451.00 196.16 L451.50 196.16 L451.50 194.73 L452.00 194.73 L452.00 196.56 L452.50 196.56 L452.50 195.48 L453.00 195.48 L453.00 195.15 L453.50 195.15 L453.50 197.11 L454.00 197.11 L454.00 196.42 L454.50 196.42 L454.50 197.15 L455.00 197.15 L455.00 196.36 L455.50 196.36 L455.50 195.69 L456.00 195.69 L456.00 195.46 L456.50 195.46 L456.50 197.64 L457.00 197.64 L457.00 197.02 L457.50 197.02 L457.50 196.37 L458.00 196.37 L458.00 195.95 L458.50 195.95 L458.50 196.63 L459.00 196.63 L459.00 197.29 L459.50 197.29 L459.50 196.80 L460.00 196.80 L460.00 197.01 L460.50 197.01 L460.50 197.15 L461.00 197.15 L461.00 197.46 L461.50 197.46 L461.50 196.96 L462.00 196.96 L462.00 197.05 L462.50 197.05 L462.50 197.29 L463.00 197.29 L463.00 197.40 L463.50 197.40 L463.50 197.94 L464.00 197.94 L464.00 197.62 L464.50 197.62 L464.50 196.92 L465.00 196.92 L465.00 197.58 L465.50 197.58 L465.50 198.13 L466.00 198.13 L466.00 196.96 L466.50 196.96 L466.50 197.32 L467.00 197.32 L467.00 196.66 L467.50 196.66 L467.50 197.55 L468.00 197.55 L468.00 197.78 L468.50 197.78 L468.50 198.20 L469.00 198.20 L469.00 197.07 L469.50 197.07 L469.50 196.57 L470.00 196.57 L470.00 197.98 L470.50 197.98 L470.50 197.92 L471.00 197.92 L471.00 197.43 L471.50 197.43 L471.50 198.02 L472.00 198.02 L472.00 197.81 L472.50 197.81 L472.50 197.85 L473.00 197.85 L473.00 197.65 L473.50 197.65 L473.50 197.32 L474.00 197.32 L474.00 197.75 L474.50 197.75 L474.50 197.42 L475.00 197.42 L475.00 197.95 L475.50 197.95 L475.50 197.68 L476.00 197.68 L476.00 198.62 L476.50 198.62 L476.50 198.37 L477.00 198.37 L477.00 197.55 L477.50 197.55 L477.50 198.08 L478.00 198.08 L478.00 197.66 L478.50 197.66 L478.50 197.69 L479.00 197.69 L479.00 197.43 L479.50 197.43 L479.50 197.63 L480.00 197.63 L480.00 197.57 L480.50 197.57 L480.50 197.99 L481.00 197.99 L481.00 198.20 L481.50 198.20 L481.50 198.23 L482.00 198.23 L482.00 198.16 L482.50 198.16 L482.50 198.39 L483.00 198.39 L483.00 198.20 L483.50 198.20 L483.50 198.06 L484.00 198.06 L484.00 197.96 L484.50 197.96 L484.50 198.17 L485.00 198.17 L485.00 198.70 L485.50 198.70 L485.50 198.11 L486.00 198.11 L486.00 198.03 L486.50 198.03 L486.50 197.78 L487.00 197.78 L487.00 197.95 L487.50 197.95 L487.50 198.34 L488.00 198.34 L488.00 198.38 L488.50 198.38 L488.50 197.57 L489.00 197.57 L489.00 197.97 L489.50 197.97 L489.50 197.67 L490.00 197.67 L490.00 197.60 L490.50 197.60 L490.50 198.47 L491.00 198.47 L491.00 198.14 L491.50 198.14 L491.50 198.13 L492.00 198.13 L492.00 198.12 L492.50 198.12 L492.50 198.14 L493.00 198.14 L493.00 198.25 L493.50 198.25 L493.50 198.27 L494.00 198.27 L494.00 198.72 L494.50 198.72 L494.50 198.39 L495.00 198.39 L495.00 198.55 L495.50 198.55 L495.50 198.35 L496.00 198.35 L496.00 198.51 L496.50 198.51 L496.50 198.26 L497.00 198.26 L497.00 198.23 L497.50 198.23 L497.50 198.36 L498.00 198.36 L498.00 198.38 L498.50 198.38 L498.50 198.44 L499.00 198.44 L499.00 198.57 L499.50 198.57 L499.50 198.53 L500.00 198.53 L500.00 198.61 L500.50 198.61 L500.50 198.44 L501.00 198.44 L501.00 198.53 L501.50 198.53 L501.50 198.44 L502.00 198.44 L502.00 198.80 L502.50 198.80 L502.50 198.42 L503.00 198.42 L503.00 198.72 L503.50 198.72 L503.50 198.73 L504.00 198.73 L504.00 198.65 L504.50 198.65 L504.50 198.72 L505.00 198.72 L505.00 198.61 L505.50 198.61 L505.50 198.75 L506.00 198.75 L506.00 198.80 L506.50 198.80 L506.50 198.80 L507.00 198.80 L507.00 198.56 L507.50 198.56 L507.50 198.72 L508.00 198.72 L508.00 198.80 L508.50 198.80 L508.50 198.75 L509.00 198.75 L509.00 198.80 L509.50 198.80 L509.50 198.68 L510.20 198.68 L510.20 198.80" fill="none" stroke="#222" stroke-width="1.05"/>
<path d="M423.50 172.00 L423.95 172.00 L423.95 176.77 L424.40 176.77 L424.40 168.41 L424.85 168.41 L424.85 169.17 L425.30 169.17 L425.30 165.88 L425.75 165.88 L425.75 166.80 L426.20 166.80 L426.20 163.07 L426.65 163.07 L426.65 165.71 L427.10 165.71 L427.10 165.89 L427.55 165.89 L427.55 162.67 L428.00 162.67 L428.00 161.84 L428.45 161.84 L428.45 162.33 L428.90 162.33 L428.90 160.82 L429.35 160.82 L429.35 156.20 L429.80 156.20 L429.80 153.37 L430.25 153.37 L430.25 152.59 L430.70 152.59 L430.70 148.32 L431.15 148.32 L431.15 148.85 L431.60 148.85 L431.60 144.60 L432.05 144.60 L432.05 150.33 L432.50 150.33 L432.50 147.96 L432.95 147.96 L432.95 148.78 L433.40 148.78 L433.40 144.60 L433.85 144.60 L433.85 147.38 L434.30 147.38 L434.30 152.04 L434.75 152.04 L434.75 148.35 L435.20 148.35 L435.20 153.30 L435.65 153.30 L435.65 148.68 L436.10 148.68 L436.10 155.93 L436.55 155.93 L436.55 152.24 L437.00 152.24 L437.00 151.21 L437.45 151.21 L437.45 153.77 L437.90 153.77 L437.90 155.68 L438.35 155.68 L438.35 157.73 L438.80 157.73 L438.80 163.02 L439.25 163.02 L439.25 166.40 L440.00 166.40 L440.00 173.00" fill="none" stroke="#555" stroke-width="0.6"/>
<path d="M406.0 198.6H510.2" stroke="#3a3a3a" stroke-width="1.3" fill="none"/>
<path d="M412.00 198.60 L412.80 197.57 L413.60 196.67 L414.40 195.12 L415.20 193.33 L416.00 192.64 L416.80 191.01 L417.60 189.73 L418.40 187.20 L419.20 184.67 L420.00 183.17 L420.80 180.96 L421.60 180.28 L422.40 177.21 L423.20 175.79 L424.00 172.17 L424.80 170.69 L425.60 168.62 L426.40 167.25 L427.20 164.87 L428.00 163.01 L428.80 162.12 L429.60 160.74 L430.40 159.19 L431.20 158.58 L432.00 158.24 L432.80 158.70 L433.60 160.18 L434.40 160.90 L435.20 164.44 L436.00 165.33 L436.80 169.13 L437.60 172.08 L438.40 175.83 L439.20 178.45 L440.00 181.50 L440.80 183.95 L441.60 186.72 L442.40 188.29 L443.20 189.44 L444.00 191.19 L444.80 192.67 L445.60 192.85 L446.40 193.77 L447.20 194.12 L448.00 194.39 L448.80 194.91 L449.60 195.54 L450.40 195.43 L451.20 195.45 L452.00 195.87 L452.80 195.92 L453.60 196.03 L454.40 196.54 L455.20 196.41 L456.00 196.46 L456.80 196.68 L457.60 196.78 L458.40 196.91 L459.20 196.86 L460.00 197.29 L460.80 197.43 L461.60 197.46 L462.40 197.75 L463.20 197.90 L464.00 197.88 L464.80 197.79 L465.60 197.85 L466.40 198.14 L467.20 198.24 L468.00 198.14 L468.80 198.19 L469.60 198.25 L470.40 198.25 L471.20 198.28 L472.00 198.43 L472.80 198.47 L473.60 198.64 L475.00 198.70" fill="none" stroke="#000" stroke-width="2.1" stroke-linejoin="round"/>
<path d="M446.8 155.4H510.3M510.3 154.2V156.6M446.8 154.2V156.6" stroke="#6a6a6a" stroke-width="1.2" fill="none"/>
<text x="493.8" y="153.2" font-size="10" font-weight="bold" class="s2" textLength="13.4" lengthAdjust="spacingAndGlyphs">M1</text>
<text font-size="10" font-weight="bold" transform="translate(401.3,121.0) rotate(-90)" textLength="10.4" lengthAdjust="spacingAndGlyphs">84</text>
<text font-size="10" font-weight="bold" transform="translate(401.8,201.4) rotate(-90)">0</text>
</g>
<g id="h3">
<path d="M271.9 304.8V390.7" stroke="#9a9a9a" stroke-width="1.3" fill="none"/>
<path d="M270.5 326.2H271.9M270.5 347.6H271.9M270.5 369.0H271.9" stroke="#9a9a9a" stroke-width="1" fill="none"/>
<path d="M283.00 390.70 L283.50 390.70 L283.50 389.90 L284.00 389.90 L284.00 390.48 L284.50 390.48 L284.50 388.70 L285.00 388.70 L285.00 389.02 L285.50 389.02 L285.50 388.92 L286.00 388.92 L286.00 388.44 L286.50 388.44 L286.50 388.14 L287.00 388.14 L287.00 387.02 L287.50 387.02 L287.50 385.66 L288.00 385.66 L288.00 385.08 L288.50 385.08 L288.50 383.92 L289.00 383.92 L289.00 385.20 L289.50 385.20 L289.50 384.14 L290.00 384.14 L290.00 379.63 L290.50 379.63 L290.50 379.31 L291.00 379.31 L291.00 376.76 L291.50 376.76 L291.50 376.99 L292.00 376.99 L292.00 378.89 L292.50 378.89 L292.50 374.46 L293.00 374.46 L293.00 374.22 L293.50 374.22 L293.50 373.67 L294.00 373.67 L294.00 374.17 L294.50 374.17 L294.50 371.70 L295.00 371.70 L295.00 370.80 L295.50 370.80 L295.50 367.83 L296.00 367.83 L296.00 367.54 L296.50 367.54 L296.50 363.15 L297.00 363.15 L297.00 366.01 L297.50 366.01 L297.50 362.00 L298.00 362.00 L298.00 360.36 L298.50 360.36 L298.50 361.65 L299.00 361.65 L299.00 360.35 L299.50 360.35 L299.50 353.10 L300.00 353.10 L300.00 351.79 L300.50 351.79 L300.50 351.18 L301.00 351.18 L301.00 347.61 L301.50 347.61 L301.50 345.61 L302.00 345.61 L302.00 332.65 L302.50 332.65 L302.50 318.81 L303.00 318.81 L303.00 324.42 L303.50 324.42 L303.50 320.04 L304.00 320.04 L304.00 322.28 L304.50 322.28 L304.50 316.47 L305.00 316.47 L305.00 320.18 L305.50 320.18 L305.50 314.76 L306.00 314.76 L306.00 315.39 L306.50 315.39 L306.50 307.97 L307.00 307.97 L307.00 305.60 L307.50 305.60 L307.50 309.93 L308.00 309.93 L308.00 314.39 L308.50 314.39 L308.50 312.89 L309.00 312.89 L309.00 311.16 L309.50 311.16 L309.50 317.21 L310.00 317.21 L310.00 314.17 L310.50 314.17 L310.50 330.44 L311.00 330.44 L311.00 335.12 L311.50 335.12 L311.50 339.31 L312.00 339.31 L312.00 343.79 L312.50 343.79 L312.50 349.70 L313.00 349.70 L313.00 351.29 L313.50 351.29 L313.50 352.08 L314.00 352.08 L314.00 356.98 L314.50 356.98 L314.50 359.95 L315.00 359.95 L315.00 359.77 L315.50 359.77 L315.50 361.73 L316.00 361.73 L316.00 366.11 L316.50 366.11 L316.50 368.47 L317.00 368.47 L317.00 371.03 L317.50 371.03 L317.50 373.65 L318.00 373.65 L318.00 375.24 L318.50 375.24 L318.50 377.51 L319.00 377.51 L319.00 376.49 L319.50 376.49 L319.50 378.88 L320.00 378.88 L320.00 380.09 L320.50 380.09 L320.50 380.47 L321.00 380.47 L321.00 380.89 L321.50 380.89 L321.50 380.70 L322.00 380.70 L322.00 383.33 L322.50 383.33 L322.50 384.02 L323.00 384.02 L323.00 383.71 L323.50 383.71 L323.50 385.02 L324.00 385.02 L324.00 383.30 L324.50 383.30 L324.50 383.84 L325.00 383.84 L325.00 384.27 L325.50 384.27 L325.50 385.22 L326.00 385.22 L326.00 384.67 L326.50 384.67 L326.50 384.77 L327.00 384.77 L327.00 385.70 L327.50 385.70 L327.50 386.77 L328.00 386.77 L328.00 388.23 L328.50 388.23 L328.50 386.75 L329.00 386.75 L329.00 388.03 L329.50 388.03 L329.50 388.71 L330.00 388.71 L330.00 388.11 L330.50 388.11 L330.50 388.52 L331.00 388.52 L331.00 389.54 L331.50 389.54 L331.50 388.95 L332.00 388.95 L332.00 389.13 L332.50 389.13 L332.50 388.62 L333.00 388.62 L333.00 390.08 L333.50 390.08 L333.50 389.47 L334.00 389.47 L334.00 389.46 L334.50 389.46 L334.50 388.91 L335.00 388.91 L335.00 390.03 L335.50 390.03 L335.50 390.70 L336.00 390.70 L336.00 390.19 L336.50 390.19 L336.50 389.57 L337.00 389.57 L337.00 389.39 L337.50 389.39 L337.50 389.07 L338.00 389.07 L338.00 389.60 L338.50 389.60 L338.50 390.07 L339.00 390.07 L339.00 389.48 L339.50 389.48 L339.50 389.83 L340.00 389.83 L340.00 389.92 L340.50 389.92 L340.50 389.87 L341.00 389.87 L341.00 389.47 L341.50 389.47 L341.50 390.23 L342.00 390.23 L342.00 390.29 L342.50 390.29 L342.50 390.00 L343.00 390.00 L343.00 390.02 L343.50 390.02 L343.50 390.28 L344.00 390.28 L344.00 390.32 L344.50 390.32 L344.50 389.96 L345.00 389.96 L345.00 389.71 L345.50 389.71 L345.50 389.90 L346.00 389.90 L346.00 389.92 L346.50 389.92 L346.50 389.77 L347.00 389.77 L347.00 390.70 L347.50 390.70 L347.50 390.57 L348.00 390.57 L348.00 390.35 L348.50 390.35 L348.50 390.50 L349.00 390.50 L349.00 390.45 L349.50 390.45 L349.50 390.16 L350.00 390.16 L350.00 390.54 L350.50 390.54 L350.50 390.32 L351.00 390.32 L351.00 390.70 L351.50 390.70 L351.50 390.48 L352.00 390.48 L352.00 389.88 L352.50 389.88 L352.50 390.38 L353.00 390.38 L353.00 390.16 L353.50 390.16 L353.50 390.08 L354.00 390.08 L354.00 390.39 L354.50 390.39 L354.50 390.13 L355.00 390.13 L355.00 390.23 L355.50 390.23 L355.50 390.12 L356.00 390.12 L356.00 390.45 L356.50 390.45 L356.50 390.65 L357.00 390.65 L357.00 390.56 L357.50 390.56 L357.50 390.46 L358.00 390.46 L358.00 390.22 L358.50 390.22 L358.50 390.39 L359.00 390.39 L359.00 390.45 L359.50 390.45 L359.50 390.41 L360.00 390.41 L360.00 390.14 L360.50 390.14 L360.50 390.51 L361.00 390.51 L361.00 390.08 L361.50 390.08 L361.50 390.66 L362.00 390.66 L362.00 390.53 L362.50 390.53 L362.50 390.25 L363.00 390.25 L363.00 390.33 L363.50 390.33 L363.50 390.61 L364.00 390.61 L364.00 390.47 L364.50 390.47 L364.50 390.59 L365.00 390.59 L365.00 390.31 L365.50 390.31 L365.50 390.38 L366.00 390.38 L366.00 390.61 L366.50 390.61 L366.50 390.43 L367.00 390.43 L367.00 390.57 L367.50 390.57 L367.50 390.53 L368.00 390.53 L368.00 390.51 L368.50 390.51 L368.50 390.62 L369.00 390.62 L369.00 390.48 L369.50 390.48 L369.50 390.48 L370.00 390.48 L370.00 390.50 L370.50 390.50 L370.50 390.42 L371.00 390.42 L371.00 390.61 L371.50 390.61 L371.50 390.70 L372.00 390.70 L372.00 390.66 L372.50 390.66 L372.50 390.58 L373.00 390.58 L373.00 390.61 L373.50 390.61 L373.50 390.56 L374.00 390.56 L374.00 390.55 L374.50 390.55 L374.50 390.65 L375.00 390.65 L375.00 390.66 L375.50 390.66 L375.50 390.70 L376.00 390.70 L376.00 390.60 L376.50 390.60 L376.50 390.69 L377.00 390.69 L377.00 390.70 L377.60 390.70 L377.60 390.70Z" fill="#cdcdcd" stroke="none"/>
<path d="M283.00 390.70 L283.50 390.70 L283.50 389.90 L284.00 389.90 L284.00 390.48 L284.50 390.48 L284.50 388.70 L285.00 388.70 L285.00 389.02 L285.50 389.02 L285.50 388.92 L286.00 388.92 L286.00 388.44 L286.50 388.44 L286.50 388.14 L287.00 388.14 L287.00 387.02 L287.50 387.02 L287.50 385.66 L288.00 385.66 L288.00 385.08 L288.50 385.08 L288.50 383.92 L289.00 383.92 L289.00 385.20 L289.50 385.20 L289.50 384.14 L290.00 384.14 L290.00 379.63 L290.50 379.63 L290.50 379.31 L291.00 379.31 L291.00 376.76 L291.50 376.76 L291.50 376.99 L292.00 376.99 L292.00 378.89 L292.50 378.89 L292.50 374.46 L293.00 374.46 L293.00 374.22 L293.50 374.22 L293.50 373.67 L294.00 373.67 L294.00 374.17 L294.50 374.17 L294.50 371.70 L295.00 371.70 L295.00 370.80 L295.50 370.80 L295.50 367.83 L296.00 367.83 L296.00 367.54 L296.50 367.54 L296.50 363.15 L297.00 363.15 L297.00 366.01 L297.50 366.01 L297.50 362.00 L298.00 362.00 L298.00 360.36 L298.50 360.36 L298.50 361.65 L299.00 361.65 L299.00 360.35 L299.50 360.35 L299.50 353.10 L300.00 353.10 L300.00 351.79 L300.50 351.79 L300.50 351.18 L301.00 351.18 L301.00 347.61 L301.50 347.61 L301.50 345.61 L302.00 345.61 L302.00 332.65 L302.50 332.65 L302.50 318.81 L303.00 318.81 L303.00 324.42 L303.50 324.42 L303.50 320.04 L304.00 320.04 L304.00 322.28 L304.50 322.28 L304.50 316.47 L305.00 316.47 L305.00 320.18 L305.50 320.18 L305.50 314.76 L306.00 314.76 L306.00 315.39 L306.50 315.39 L306.50 307.97 L307.00 307.97 L307.00 305.60 L307.50 305.60 L307.50 309.93 L308.00 309.93 L308.00 314.39 L308.50 314.39 L308.50 312.89 L309.00 312.89 L309.00 311.16 L309.50 311.16 L309.50 317.21 L310.00 317.21 L310.00 314.17 L310.50 314.17 L310.50 330.44 L311.00 330.44 L311.00 335.12 L311.50 335.12 L311.50 339.31 L312.00 339.31 L312.00 343.79 L312.50 343.79 L312.50 349.70 L313.00 349.70 L313.00 351.29 L313.50 351.29 L313.50 352.08 L314.00 352.08 L314.00 356.98 L314.50 356.98 L314.50 359.95 L315.00 359.95 L315.00 359.77 L315.50 359.77 L315.50 361.73 L316.00 361.73 L316.00 366.11 L316.50 366.11 L316.50 368.47 L317.00 368.47 L317.00 371.03 L317.50 371.03 L317.50 373.65 L318.00 373.65 L318.00 375.24 L318.50 375.24 L318.50 377.51 L319.00 377.51 L319.00 376.49 L319.50 376.49 L319.50 378.88 L320.00 378.88 L320.00 380.09 L320.50 380.09 L320.50 380.47 L321.00 380.47 L321.00 380.89 L321.50 380.89 L321.50 380.70 L322.00 380.70 L322.00 383.33 L322.50 383.33 L322.50 384.02 L323.00 384.02 L323.00 383.71 L323.50 383.71 L323.50 385.02 L324.00 385.02 L324.00 383.30 L324.50 383.30 L324.50 383.84 L325.00 383.84 L325.00 384.27 L325.50 384.27 L325.50 385.22 L326.00 385.22 L326.00 384.67 L326.50 384.67 L326.50 384.77 L327.00 384.77 L327.00 385.70 L327.50 385.70 L327.50 386.77 L328.00 386.77 L328.00 388.23 L328.50 388.23 L328.50 386.75 L329.00 386.75 L329.00 388.03 L329.50 388.03 L329.50 388.71 L330.00 388.71 L330.00 388.11 L330.50 388.11 L330.50 388.52 L331.00 388.52 L331.00 389.54 L331.50 389.54 L331.50 388.95 L332.00 388.95 L332.00 389.13 L332.50 389.13 L332.50 388.62 L333.00 388.62 L333.00 390.08 L333.50 390.08 L333.50 389.47 L334.00 389.47 L334.00 389.46 L334.50 389.46 L334.50 388.91 L335.00 388.91 L335.00 390.03 L335.50 390.03 L335.50 390.70 L336.00 390.70 L336.00 390.19 L336.50 390.19 L336.50 389.57 L337.00 389.57 L337.00 389.39 L337.50 389.39 L337.50 389.07 L338.00 389.07 L338.00 389.60 L338.50 389.60 L338.50 390.07 L339.00 390.07 L339.00 389.48 L339.50 389.48 L339.50 389.83 L340.00 389.83 L340.00 389.92 L340.50 389.92 L340.50 389.87 L341.00 389.87 L341.00 389.47 L341.50 389.47 L341.50 390.23 L342.00 390.23 L342.00 390.29 L342.50 390.29 L342.50 390.00 L343.00 390.00 L343.00 390.02 L343.50 390.02 L343.50 390.28 L344.00 390.28 L344.00 390.32 L344.50 390.32 L344.50 389.96 L345.00 389.96 L345.00 389.71 L345.50 389.71 L345.50 389.90 L346.00 389.90 L346.00 389.92 L346.50 389.92 L346.50 389.77 L347.00 389.77 L347.00 390.70 L347.50 390.70 L347.50 390.57 L348.00 390.57 L348.00 390.35 L348.50 390.35 L348.50 390.50 L349.00 390.50 L349.00 390.45 L349.50 390.45 L349.50 390.16 L350.00 390.16 L350.00 390.54 L350.50 390.54 L350.50 390.32 L351.00 390.32 L351.00 390.70 L351.50 390.70 L351.50 390.48 L352.00 390.48 L352.00 389.88 L352.50 389.88 L352.50 390.38 L353.00 390.38 L353.00 390.16 L353.50 390.16 L353.50 390.08 L354.00 390.08 L354.00 390.39 L354.50 390.39 L354.50 390.13 L355.00 390.13 L355.00 390.23 L355.50 390.23 L355.50 390.12 L356.00 390.12 L356.00 390.45 L356.50 390.45 L356.50 390.65 L357.00 390.65 L357.00 390.56 L357.50 390.56 L357.50 390.46 L358.00 390.46 L358.00 390.22 L358.50 390.22 L358.50 390.39 L359.00 390.39 L359.00 390.45 L359.50 390.45 L359.50 390.41 L360.00 390.41 L360.00 390.14 L360.50 390.14 L360.50 390.51 L361.00 390.51 L361.00 390.08 L361.50 390.08 L361.50 390.66 L362.00 390.66 L362.00 390.53 L362.50 390.53 L362.50 390.25 L363.00 390.25 L363.00 390.33 L363.50 390.33 L363.50 390.61 L364.00 390.61 L364.00 390.47 L364.50 390.47 L364.50 390.59 L365.00 390.59 L365.00 390.31 L365.50 390.31 L365.50 390.38 L366.00 390.38 L366.00 390.61 L366.50 390.61 L366.50 390.43 L367.00 390.43 L367.00 390.57 L367.50 390.57 L367.50 390.53 L368.00 390.53 L368.00 390.51 L368.50 390.51 L368.50 390.62 L369.00 390.62 L369.00 390.48 L369.50 390.48 L369.50 390.48 L370.00 390.48 L370.00 390.50 L370.50 390.50 L370.50 390.42 L371.00 390.42 L371.00 390.61 L371.50 390.61 L371.50 390.70 L372.00 390.70 L372.00 390.66 L372.50 390.66 L372.50 390.58 L373.00 390.58 L373.00 390.61 L373.50 390.61 L373.50 390.56 L374.00 390.56 L374.00 390.55 L374.50 390.55 L374.50 390.65 L375.00 390.65 L375.00 390.66 L375.50 390.66 L375.50 390.70 L376.00 390.70 L376.00 390.60 L376.50 390.60 L376.50 390.69 L377.00 390.69 L377.00 390.70 L377.60 390.70 L377.60 390.70" fill="none" stroke="#222" stroke-width="1.1"/>
<path d="M301.20 347.70 L301.65 347.70 L301.65 341.39 L302.10 341.39 L302.10 330.16 L302.55 330.16 L302.55 324.59 L303.00 324.59 L303.00 323.78 L303.45 323.78 L303.45 329.42 L303.90 329.42 L303.90 318.95 L304.35 318.95 L304.35 318.01 L304.80 318.01 L304.80 315.52 L305.25 315.52 L305.25 312.78 L305.70 312.78 L305.70 311.68 L306.15 311.68 L306.15 311.50 L306.60 311.50 L306.60 307.98 L307.05 307.98 L307.05 306.40 L307.50 306.40 L307.50 311.10 L307.95 311.10 L307.95 313.83 L308.40 313.83 L308.40 318.68 L308.85 318.68 L308.85 318.21 L309.30 318.21 L309.30 315.16 L309.75 315.16 L309.75 313.83 L310.20 313.83 L310.20 321.52 L310.65 321.52 L310.65 328.49 L311.10 328.49 L311.10 335.79 L311.55 335.79 L311.55 339.19 L312.00 339.19 L312.00 347.29 L312.45 347.29 L312.45 346.70 L313.30 346.70 L313.30 351.00" fill="none" stroke="#555" stroke-width="0.6"/>
<path d="M271.9 390.5H377.6" stroke="#3a3a3a" stroke-width="1.3" fill="none"/>
<path d="M278.00 390.50 L278.80 390.24 L279.60 389.83 L280.40 388.79 L281.20 387.39 L282.00 387.00 L282.80 385.17 L283.60 383.86 L284.40 382.95 L285.20 381.53 L286.00 379.35 L286.80 376.98 L287.60 374.35 L288.40 372.64 L289.20 369.68 L290.00 368.09 L290.80 365.30 L291.60 363.23 L292.40 360.40 L293.20 357.38 L294.00 354.49 L294.80 353.06 L295.60 348.52 L296.40 345.33 L297.20 340.41 L298.00 335.69 L298.80 331.65 L299.60 334.60 L300.40 338.92 L301.20 344.19 L302.00 348.04 L302.80 354.02 L303.60 356.64 L304.40 360.23 L305.20 367.00 L306.00 369.55 L306.80 373.53 L307.60 376.62 L308.40 378.60 L309.20 379.91 L310.00 381.26 L310.80 382.52 L311.60 383.83 L312.40 383.81 L313.20 384.36 L314.00 384.89 L314.80 385.46 L315.60 385.56 L316.40 385.85 L317.20 386.53 L318.00 386.75 L318.80 387.07 L319.60 387.34 L320.40 387.53 L321.20 388.27 L322.00 388.10 L322.80 388.05 L323.60 388.65 L324.40 388.62 L325.20 388.18 L326.00 388.76 L326.80 388.73 L327.60 388.67 L328.40 388.88 L329.20 389.02 L330.00 389.03 L330.80 389.09 L331.60 389.19 L332.40 389.14 L333.20 389.01 L334.00 389.27 L334.80 389.20 L335.60 389.41 L336.40 389.50 L337.20 389.62 L338.00 389.82 L338.80 389.83 L339.60 389.94 L340.40 390.17 L341.20 390.09 L342.00 390.21 L342.80 390.32 L343.60 390.47 L345.00 390.60" fill="none" stroke="#000" stroke-width="1.9" stroke-linejoin="round"/>
<path d="M311.0 350.3H377.3M377.3 349.1V351.5" stroke="#6a6a6a" stroke-width="1.2" fill="none"/>
<text x="360.1" y="348.1" font-size="10" font-weight="bold" class="s2" textLength="13.4" lengthAdjust="spacingAndGlyphs">M1</text>
<text font-size="10" font-weight="bold" transform="translate(268.6,311.3) rotate(-90)" textLength="10.4" lengthAdjust="spacingAndGlyphs">35</text>
<text font-size="10" font-weight="bold" transform="translate(269.0,393.2) rotate(-90)">0</text>
<text font-size="10.5" font-weight="bold" transform="translate(265.0,364.9) rotate(-90)" textLength="32.6" lengthAdjust="spacingAndGlyphs">Events</text>
</g>
<g id="h4">
<path d="M407.3 305.6V391.7" stroke="#9a9a9a" stroke-width="1.3" fill="none"/>
<path d="M405.9 327.5H407.3M405.9 348.9H407.3M405.9 370.3H407.3" stroke="#9a9a9a" stroke-width="1" fill="none"/>
<path d="M420.00 391.70 L420.50 391.70 L420.50 391.03 L421.00 391.03 L421.00 390.26 L421.50 390.26 L421.50 390.41 L422.00 390.41 L422.00 388.88 L422.50 388.88 L422.50 388.57 L423.00 388.57 L423.00 387.77 L423.50 387.77 L423.50 387.82 L424.00 387.82 L424.00 386.83 L424.50 386.83 L424.50 388.15 L425.00 388.15 L425.00 385.66 L425.50 385.66 L425.50 385.79 L426.00 385.79 L426.00 387.02 L426.50 387.02 L426.50 385.61 L427.00 385.61 L427.00 385.44 L427.50 385.44 L427.50 387.15 L428.00 387.15 L428.00 384.57 L428.50 384.57 L428.50 385.38 L429.00 385.38 L429.00 384.70 L429.50 384.70 L429.50 384.72 L430.00 384.72 L430.00 384.20 L430.50 384.20 L430.50 383.17 L431.00 383.17 L431.00 382.56 L431.50 382.56 L431.50 383.93 L432.00 383.93 L432.00 381.84 L432.50 381.84 L432.50 382.61 L433.00 382.61 L433.00 381.98 L433.50 381.98 L433.50 380.14 L434.00 380.14 L434.00 377.74 L434.50 377.74 L434.50 377.24 L435.00 377.24 L435.00 378.21 L435.50 378.21 L435.50 377.60 L436.00 377.60 L436.00 377.02 L436.50 377.02 L436.50 374.51 L437.00 374.51 L437.00 371.80 L437.50 371.80 L437.50 371.88 L438.00 371.88 L438.00 369.29 L438.50 369.29 L438.50 367.42 L439.00 367.42 L439.00 362.57 L439.50 362.57 L439.50 366.88 L440.00 366.88 L440.00 364.30 L440.50 364.30 L440.50 357.27 L441.00 357.27 L441.00 352.54 L441.50 352.54 L441.50 352.03 L442.00 352.03 L442.00 346.85 L442.50 346.85 L442.50 348.64 L443.00 348.64 L443.00 346.82 L443.50 346.82 L443.50 343.92 L444.00 343.92 L444.00 338.21 L444.50 338.21 L444.50 336.57 L445.00 336.57 L445.00 338.51 L445.50 338.51 L445.50 335.39 L446.00 335.39 L446.00 339.21 L446.50 339.21 L446.50 338.24 L447.00 338.24 L447.00 341.88 L447.50 341.88 L447.50 338.57 L448.00 338.57 L448.00 339.56 L448.50 339.56 L448.50 337.37 L449.00 337.37 L449.00 342.80 L449.50 342.80 L449.50 349.38 L450.00 349.38 L450.00 349.82 L450.50 349.82 L450.50 353.70 L451.00 353.70 L451.00 355.17 L451.50 355.17 L451.50 358.47 L452.00 358.47 L452.00 358.41 L452.50 358.41 L452.50 363.08 L453.00 363.08 L453.00 361.45 L453.50 361.45 L453.50 362.29 L454.00 362.29 L454.00 367.69 L454.50 367.69 L454.50 366.27 L455.00 366.27 L455.00 367.92 L455.50 367.92 L455.50 372.68 L456.00 372.68 L456.00 377.45 L456.50 377.45 L456.50 379.54 L457.00 379.54 L457.00 379.27 L457.50 379.27 L457.50 378.56 L458.00 378.56 L458.00 381.58 L458.50 381.58 L458.50 382.89 L459.00 382.89 L459.00 385.26 L459.50 385.26 L459.50 386.95 L460.00 386.95 L460.00 386.72 L460.50 386.72 L460.50 388.27 L461.00 388.27 L461.00 387.91 L461.50 387.91 L461.50 387.76 L462.00 387.76 L462.00 388.48 L462.50 388.48 L462.50 388.29 L463.00 388.29 L463.00 389.06 L463.50 389.06 L463.50 388.53 L464.00 388.53 L464.00 388.80 L464.50 388.80 L464.50 390.18 L465.00 390.18 L465.00 389.94 L465.50 389.94 L465.50 389.87 L466.00 389.87 L466.00 389.24 L466.50 389.24 L466.50 389.50 L467.00 389.50 L467.00 389.57 L467.50 389.57 L467.50 389.69 L468.00 389.69 L468.00 389.51 L468.50 389.51 L468.50 389.42 L469.00 389.42 L469.00 390.24 L469.50 390.24 L469.50 390.81 L470.00 390.81 L470.00 389.77 L470.50 389.77 L470.50 390.25 L471.00 390.25 L471.00 390.19 L471.50 390.19 L471.50 390.35 L472.00 390.35 L472.00 390.83 L472.50 390.83 L472.50 391.05 L473.00 391.05 L473.00 390.05 L473.50 390.05 L473.50 390.06 L474.00 390.06 L474.00 390.20 L474.50 390.20 L474.50 390.56 L475.00 390.56 L475.00 390.60 L475.50 390.60 L475.50 390.87 L476.00 390.87 L476.00 390.70 L476.50 390.70 L476.50 390.89 L477.00 390.89 L477.00 390.96 L477.50 390.96 L477.50 390.70 L478.00 390.70 L478.00 390.17 L478.50 390.17 L478.50 391.48 L479.00 391.48 L479.00 390.60 L479.50 390.60 L479.50 390.59 L480.00 390.59 L480.00 391.27 L480.50 391.27 L480.50 390.74 L481.00 390.74 L481.00 390.83 L481.50 390.83 L481.50 391.04 L482.00 391.04 L482.00 391.07 L482.50 391.07 L482.50 391.39 L483.00 391.39 L483.00 390.35 L483.50 390.35 L483.50 390.16 L484.00 390.16 L484.00 390.43 L484.50 390.43 L484.50 391.06 L485.00 391.06 L485.00 390.89 L485.50 390.89 L485.50 390.87 L486.00 390.87 L486.00 391.27 L486.50 391.27 L486.50 391.10 L487.00 391.10 L487.00 390.87 L487.50 390.87 L487.50 391.18 L488.00 391.18 L488.00 391.60 L488.50 391.60 L488.50 391.46 L489.00 391.46 L489.00 391.02 L489.50 391.02 L489.50 391.21 L490.00 391.21 L490.00 391.21 L490.50 391.21 L490.50 390.75 L491.00 390.75 L491.00 391.13 L491.50 391.13 L491.50 391.36 L492.00 391.36 L492.00 391.20 L492.50 391.20 L492.50 390.61 L493.00 390.61 L493.00 391.51 L493.50 391.51 L493.50 390.75 L494.00 390.75 L494.00 390.86 L494.50 390.86 L494.50 391.29 L495.00 391.29 L495.00 391.35 L495.50 391.35 L495.50 390.92 L496.00 390.92 L496.00 391.23 L496.50 391.23 L496.50 391.43 L497.00 391.43 L497.00 390.89 L497.50 390.89 L497.50 391.29 L498.00 391.29 L498.00 391.27 L498.50 391.27 L498.50 391.35 L499.00 391.35 L499.00 391.44 L499.50 391.44 L499.50 391.36 L500.00 391.36 L500.00 391.48 L500.50 391.48 L500.50 391.31 L501.00 391.31 L501.00 391.22 L501.50 391.22 L501.50 391.24 L502.00 391.24 L502.00 391.24 L502.50 391.24 L502.50 391.20 L503.00 391.20 L503.00 391.35 L503.50 391.35 L503.50 391.60 L504.00 391.60 L504.00 391.36 L504.50 391.36 L504.50 391.70 L505.00 391.70 L505.00 391.65 L505.50 391.65 L505.50 391.52 L506.00 391.52 L506.00 391.70 L506.50 391.70 L506.50 391.40 L507.00 391.40 L507.00 391.70 L507.50 391.70 L507.50 391.70 L508.00 391.70 L508.00 391.70 L508.50 391.70 L508.50 391.70 L509.00 391.70 L509.00 391.66 L509.50 391.66 L509.50 391.68 L510.00 391.68 L510.00 391.63 L510.60 391.63 L510.60 391.70Z" fill="#cdcdcd" stroke="none"/>
<path d="M420.00 391.70 L420.50 391.70 L420.50 391.03 L421.00 391.03 L421.00 390.26 L421.50 390.26 L421.50 390.41 L422.00 390.41 L422.00 388.88 L422.50 388.88 L422.50 388.57 L423.00 388.57 L423.00 387.77 L423.50 387.77 L423.50 387.82 L424.00 387.82 L424.00 386.83 L424.50 386.83 L424.50 388.15 L425.00 388.15 L425.00 385.66 L425.50 385.66 L425.50 385.79 L426.00 385.79 L426.00 387.02 L426.50 387.02 L426.50 385.61 L427.00 385.61 L427.00 385.44 L427.50 385.44 L427.50 387.15 L428.00 387.15 L428.00 384.57 L428.50 384.57 L428.50 385.38 L429.00 385.38 L429.00 384.70 L429.50 384.70 L429.50 384.72 L430.00 384.72 L430.00 384.20 L430.50 384.20 L430.50 383.17 L431.00 383.17 L431.00 382.56 L431.50 382.56 L431.50 383.93 L432.00 383.93 L432.00 381.84 L432.50 381.84 L432.50 382.61 L433.00 382.61 L433.00 381.98 L433.50 381.98 L433.50 380.14 L434.00 380.14 L434.00 377.74 L434.50 377.74 L434.50 377.24 L435.00 377.24 L435.00 378.21 L435.50 378.21 L435.50 377.60 L436.00 377.60 L436.00 377.02 L436.50 377.02 L436.50 374.51 L437.00 374.51 L437.00 371.80 L437.50 371.80 L437.50 371.88 L438.00 371.88 L438.00 369.29 L438.50 369.29 L438.50 367.42 L439.00 367.42 L439.00 362.57 L439.50 362.57 L439.50 366.88 L440.00 366.88 L440.00 364.30 L440.50 364.30 L440.50 357.27 L441.00 357.27 L441.00 352.54 L441.50 352.54 L441.50 352.03 L442.00 352.03 L442.00 346.85 L442.50 346.85 L442.50 348.64 L443.00 348.64 L443.00 346.82 L443.50 346.82 L443.50 343.92 L444.00 343.92 L444.00 338.21 L444.50 338.21 L444.50 336.57 L445.00 336.57 L445.00 338.51 L445.50 338.51 L445.50 335.39 L446.00 335.39 L446.00 339.21 L446.50 339.21 L446.50 338.24 L447.00 338.24 L447.00 341.88 L447.50 341.88 L447.50 338.57 L448.00 338.57 L448.00 339.56 L448.50 339.56 L448.50 337.37 L449.00 337.37 L449.00 342.80 L449.50 342.80 L449.50 349.38 L450.00 349.38 L450.00 349.82 L450.50 349.82 L450.50 353.70 L451.00 353.70 L451.00 355.17 L451.50 355.17 L451.50 358.47 L452.00 358.47 L452.00 358.41 L452.50 358.41 L452.50 363.08 L453.00 363.08 L453.00 361.45 L453.50 361.45 L453.50 362.29 L454.00 362.29 L454.00 367.69 L454.50 367.69 L454.50 366.27 L455.00 366.27 L455.00 367.92 L455.50 367.92 L455.50 372.68 L456.00 372.68 L456.00 377.45 L456.50 377.45 L456.50 379.54 L457.00 379.54 L457.00 379.27 L457.50 379.27 L457.50 378.56 L458.00 378.56 L458.00 381.58 L458.50 381.58 L458.50 382.89 L459.00 382.89 L459.00 385.26 L459.50 385.26 L459.50 386.95 L460.00 386.95 L460.00 386.72 L460.50 386.72 L460.50 388.27 L461.00 388.27 L461.00 387.91 L461.50 387.91 L461.50 387.76 L462.00 387.76 L462.00 388.48 L462.50 388.48 L462.50 388.29 L463.00 388.29 L463.00 389.06 L463.50 389.06 L463.50 388.53 L464.00 388.53 L464.00 388.80 L464.50 388.80 L464.50 390.18 L465.00 390.18 L465.00 389.94 L465.50 389.94 L465.50 389.87 L466.00 389.87 L466.00 389.24 L466.50 389.24 L466.50 389.50 L467.00 389.50 L467.00 389.57 L467.50 389.57 L467.50 389.69 L468.00 389.69 L468.00 389.51 L468.50 389.51 L468.50 389.42 L469.00 389.42 L469.00 390.24 L469.50 390.24 L469.50 390.81 L470.00 390.81 L470.00 389.77 L470.50 389.77 L470.50 390.25 L471.00 390.25 L471.00 390.19 L471.50 390.19 L471.50 390.35 L472.00 390.35 L472.00 390.83 L472.50 390.83 L472.50 391.05 L473.00 391.05 L473.00 390.05 L473.50 390.05 L473.50 390.06 L474.00 390.06 L474.00 390.20 L474.50 390.20 L474.50 390.56 L475.00 390.56 L475.00 390.60 L475.50 390.60 L475.50 390.87 L476.00 390.87 L476.00 390.70 L476.50 390.70 L476.50 390.89 L477.00 390.89 L477.00 390.96 L477.50 390.96 L477.50 390.70 L478.00 390.70 L478.00 390.17 L478.50 390.17 L478.50 391.48 L479.00 391.48 L479.00 390.60 L479.50 390.60 L479.50 390.59 L480.00 390.59 L480.00 391.27 L480.50 391.27 L480.50 390.74 L481.00 390.74 L481.00 390.83 L481.50 390.83 L481.50 391.04 L482.00 391.04 L482.00 391.07 L482.50 391.07 L482.50 391.39 L483.00 391.39 L483.00 390.35 L483.50 390.35 L483.50 390.16 L484.00 390.16 L484.00 390.43 L484.50 390.43 L484.50 391.06 L485.00 391.06 L485.00 390.89 L485.50 390.89 L485.50 390.87 L486.00 390.87 L486.00 391.27 L486.50 391.27 L486.50 391.10 L487.00 391.10 L487.00 390.87 L487.50 390.87 L487.50 391.18 L488.00 391.18 L488.00 391.60 L488.50 391.60 L488.50 391.46 L489.00 391.46 L489.00 391.02 L489.50 391.02 L489.50 391.21 L490.00 391.21 L490.00 391.21 L490.50 391.21 L490.50 390.75 L491.00 390.75 L491.00 391.13 L491.50 391.13 L491.50 391.36 L492.00 391.36 L492.00 391.20 L492.50 391.20 L492.50 390.61 L493.00 390.61 L493.00 391.51 L493.50 391.51 L493.50 390.75 L494.00 390.75 L494.00 390.86 L494.50 390.86 L494.50 391.29 L495.00 391.29 L495.00 391.35 L495.50 391.35 L495.50 390.92 L496.00 390.92 L496.00 391.23 L496.50 391.23 L496.50 391.43 L497.00 391.43 L497.00 390.89 L497.50 390.89 L497.50 391.29 L498.00 391.29 L498.00 391.27 L498.50 391.27 L498.50 391.35 L499.00 391.35 L499.00 391.44 L499.50 391.44 L499.50 391.36 L500.00 391.36 L500.00 391.48 L500.50 391.48 L500.50 391.31 L501.00 391.31 L501.00 391.22 L501.50 391.22 L501.50 391.24 L502.00 391.24 L502.00 391.24 L502.50 391.24 L502.50 391.20 L503.00 391.20 L503.00 391.35 L503.50 391.35 L503.50 391.60 L504.00 391.60 L504.00 391.36 L504.50 391.36 L504.50 391.70 L505.00 391.70 L505.00 391.65 L505.50 391.65 L505.50 391.52 L506.00 391.52 L506.00 391.70 L506.50 391.70 L506.50 391.40 L507.00 391.40 L507.00 391.70 L507.50 391.70 L507.50 391.70 L508.00 391.70 L508.00 391.70 L508.50 391.70 L508.50 391.70 L509.00 391.70 L509.00 391.66 L509.50 391.66 L509.50 391.68 L510.00 391.68 L510.00 391.63 L510.60 391.63 L510.60 391.70" fill="none" stroke="#222" stroke-width="1.1"/>
<path d="M439.30 364.00 L439.75 364.00 L439.75 362.34 L440.20 362.34 L440.20 357.31 L440.65 357.31 L440.65 355.89 L441.10 355.89 L441.10 356.86 L441.55 356.86 L441.55 348.48 L442.00 348.48 L442.00 348.15 L442.45 348.15 L442.45 344.35 L442.90 344.35 L442.90 339.48 L443.35 339.48 L443.35 341.79 L443.80 341.79 L443.80 343.78 L444.25 343.78 L444.25 341.22 L444.70 341.22 L444.70 336.10 L445.15 336.10 L445.15 339.71 L445.60 339.71 L445.60 336.10 L446.05 336.10 L446.05 336.58 L446.50 336.58 L446.50 341.24 L446.95 341.24 L446.95 338.32 L447.40 338.32 L447.40 337.21 L447.85 337.21 L447.85 339.77 L448.30 339.77 L448.30 338.59 L448.75 338.59 L448.75 337.25 L449.20 337.25 L449.20 346.49 L449.65 346.49 L449.65 350.17 L450.10 350.17 L450.10 348.52 L450.55 348.52 L450.55 352.95 L451.00 352.95 L451.00 358.22 L451.45 358.22 L451.45 357.29 L451.90 357.29 L451.90 355.54 L452.35 355.54 L452.35 363.82 L452.80 363.82 L452.80 360.81 L453.30 360.81 L453.30 364.00" fill="none" stroke="#555" stroke-width="0.6"/>
<path d="M407.3 391.5H510.6" stroke="#3a3a3a" stroke-width="1.3" fill="none"/>
<path d="M413.00 391.50 L413.80 390.81 L414.60 390.29 L415.40 389.57 L416.20 389.20 L417.00 388.40 L417.80 386.37 L418.60 385.51 L419.40 384.55 L420.20 382.37 L421.00 380.52 L421.80 378.47 L422.60 376.20 L423.40 374.77 L424.20 373.27 L425.00 371.00 L425.80 369.58 L426.60 367.69 L427.40 366.60 L428.20 365.26 L429.00 361.67 L429.80 360.71 L430.60 358.50 L431.40 357.09 L432.20 354.62 L433.00 351.94 L433.80 349.86 L434.60 349.90 L435.40 351.72 L436.20 354.41 L437.00 354.56 L437.80 358.68 L438.60 361.64 L439.40 365.92 L440.20 369.37 L441.00 372.48 L441.80 376.83 L442.60 379.23 L443.40 381.15 L444.20 382.19 L445.00 384.00 L445.80 385.54 L446.60 386.32 L447.40 386.34 L448.20 387.45 L449.00 387.72 L449.80 387.49 L450.60 388.24 L451.40 388.64 L452.20 388.99 L453.00 388.69 L453.80 388.81 L454.60 389.32 L455.40 389.57 L456.20 389.45 L457.00 389.31 L457.80 389.59 L458.60 389.99 L459.40 389.86 L460.20 389.90 L461.00 390.11 L461.80 390.17 L462.60 390.28 L463.40 390.43 L464.20 390.54 L465.00 390.71 L465.80 390.77 L466.60 390.91 L467.40 390.74 L468.20 390.82 L469.00 390.95 L469.80 391.00 L470.60 391.13 L471.40 391.28 L472.20 391.29 L473.00 391.41 L473.80 391.49 L475.00 391.60" fill="none" stroke="#000" stroke-width="1.9" stroke-linejoin="round"/>
<path d="M449.1 347.2H512.6M512.6 346.0V348.4" stroke="#6a6a6a" stroke-width="1.2" fill="none"/>
<text x="495.1" y="344.7" font-size="10" font-weight="bold" class="s2" textLength="13.4" lengthAdjust="spacingAndGlyphs">M1</text>
<text font-size="10" font-weight="bold" transform="translate(403.3,312.1) rotate(-90)" textLength="10.4" lengthAdjust="spacingAndGlyphs">84</text>
<text font-size="10" font-weight="bold" transform="translate(403.3,393.8) rotate(-90)">0</text>
</g>
<!--HIST_END-->
<!-- x tick labels for histograms -->
<g font-size="10.4" font-weight="bold" class="s2">
<text x="266.60" y="210.3" textLength="9.6" lengthAdjust="spacingAndGlyphs">10</text><text x="277.20" y="206.7" font-size="6.6">0</text>
<text x="291.30" y="210.3" textLength="9.6" lengthAdjust="spacingAndGlyphs">10</text><text x="301.90" y="206.7" font-size="6.6">1</text>
<text x="316.20" y="210.3" textLength="9.6" lengthAdjust="spacingAndGlyphs">10</text><text x="326.80" y="206.7" font-size="6.6">2</text>
<text x="341.30" y="210.3" textLength="9.6" lengthAdjust="spacingAndGlyphs">10</text><text x="351.90" y="206.7" font-size="6.6">3</text>
<text x="367.20" y="210.3" textLength="9.6" lengthAdjust="spacingAndGlyphs">10</text><text x="377.80" y="206.7" font-size="6.6">4</text>
<text x="399.30" y="210.1" textLength="9.6" lengthAdjust="spacingAndGlyphs">10</text><text x="409.90" y="206.5" font-size="6.6">0</text>
<text x="425.10" y="210.1" textLength="9.6" lengthAdjust="spacingAndGlyphs">10</text><text x="435.70" y="206.5" font-size="6.6">1</text>
<text x="451.80" y="210.1" textLength="9.6" lengthAdjust="spacingAndGlyphs">10</text><text x="462.40" y="206.5" font-size="6.6">2</text>
<text x="478.10" y="210.1" textLength="9.6" lengthAdjust="spacingAndGlyphs">10</text><text x="488.70" y="206.5" font-size="6.6">3</text>
<text x="503.70" y="210.1" textLength="9.6" lengthAdjust="spacingAndGlyphs">10</text><text x="514.30" y="206.5" font-size="6.6">4</text>
<text x="265.70" y="401.6" textLength="9.6" lengthAdjust="spacingAndGlyphs">10</text><text x="276.30" y="398.0" font-size="6.6">0</text>
<text x="291.30" y="401.6" textLength="9.6" lengthAdjust="spacingAndGlyphs">10</text><text x="301.90" y="398.0" font-size="6.6">1</text>
<text x="318.20" y="401.6" textLength="9.6" lengthAdjust="spacingAndGlyphs">10</text><text x="328.80" y="398.0" font-size="6.6">2</text>
<text x="344.20" y="401.6" textLength="9.6" lengthAdjust="spacingAndGlyphs">10</text><text x="354.80" y="398.0" font-size="6.6">3</text>
<text x="369.40" y="401.6" textLength="9.6" lengthAdjust="spacingAndGlyphs">10</text><text x="380.00" y="398.0" font-size="6.6">4</text>
<text x="400.50" y="401.8" textLength="9.6" lengthAdjust="spacingAndGlyphs">10</text><text x="411.10" y="398.2" font-size="6.6">0</text>
<text x="426.40" y="401.8" textLength="9.6" lengthAdjust="spacingAndGlyphs">10</text><text x="437.00" y="398.2" font-size="6.6">1</text>
<text x="453.40" y="401.8" textLength="9.6" lengthAdjust="spacingAndGlyphs">10</text><text x="464.00" y="398.2" font-size="6.6">2</text>
<text x="479.30" y="401.8" textLength="9.6" lengthAdjust="spacingAndGlyphs">10</text><text x="489.90" y="398.2" font-size="6.6">3</text>
<text x="504.70" y="401.8" textLength="9.6" lengthAdjust="spacingAndGlyphs">10</text><text x="515.30" y="398.2" font-size="6.6">4</text>
</g>
</svg>
</body></html>
